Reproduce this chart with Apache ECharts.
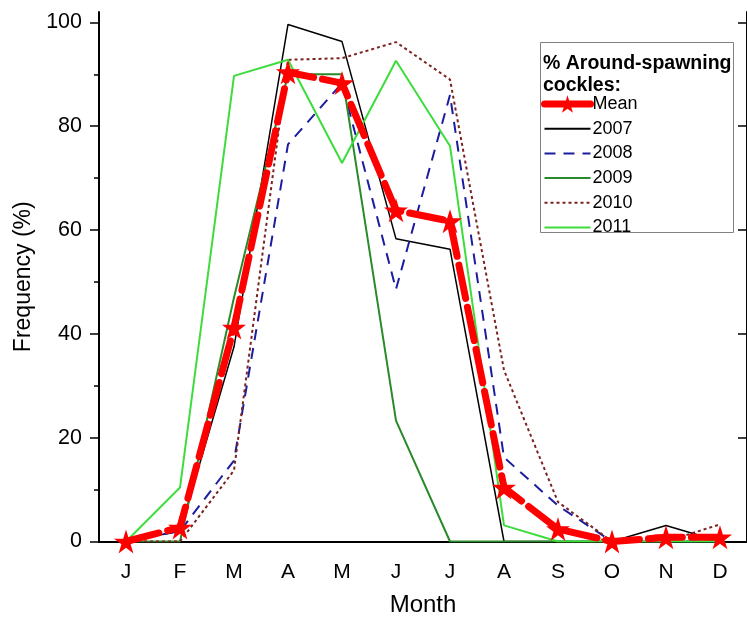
<!DOCTYPE html>
<html>
<head>
<meta charset="utf-8">
<script src="https://cdn.jsdelivr.net/npm/echarts@6/dist/echarts.min.js"></script>
<style>
  html, body { margin: 0; padding: 0; background: #fff; }
  #main { width: 747px; height: 623px; }
</style>
</head>
<body>
<div id="main"></div>
<script>
// month initials on the x axis
var months = ['J', 'F', 'M', 'A', 'M', 'J', 'J', 'A', 'S', 'O', 'N', 'D'];
// % around-spawning cockles
var meanData = [0, 2.7, 41.2, 90.4, 88.3, 63.8, 61.7, 10.4, 2.4, 0, 0.8, 0.8];
var y2007 = [0, 2, 37.5, 99.6, 96.3, 58.3, 56.3, 0, 0, 0, 3.1, 0];
var y2008 = [0, 2, 15.6, 76.5, 88.3, 48.6, 86, 16.2, 6.9, 0, 0, 0];
var y2009 = [0, 0, 47, 90, 90, 23.3, 0, 0, 0, 0, 0, 0];
var y2010 = [0, 0, 13.7, 92.8, 93.1, 96.2, 89, 33, 7.6, 0, 0, 3.3];
var y2011 = [0, 10.4, 89.7, 92.8, 72.9, 92.6, 76.2, 3.1, 0, 0, 0, 0];
var yTicks = [0, 20, 40, 60, 80, 100];

var font = 'Liberation Sans, Arial, sans-serif';
var star = 'path://M50,0 L61.2,34.5 L97.6,34.5 L68.2,55.9 L79.4,90.5 L50,69.1 L20.6,90.5 L31.8,55.9 L2.4,34.5 L38.8,34.5 Z';

function yearLine(name, data, color, type, width) {
    return {
        name: name,
        type: 'line',
        data: data,
        symbol: 'circle',
        showSymbol: false,
        z: 2,
        lineStyle: { color: color, width: width, type: type },
        itemStyle: { color: color }
    };
}

// legend entries: year lines show only their line, no marker
var legendData = [{ name: 'Mean', lineStyle: { width: 7, type: 'solid' } }];
['2007', '2008', '2009', '2010', '2011'].forEach(function (n) {
    legendData.push({ name: n, itemStyle: { opacity: 0 } });
});

var myChart = echarts.init(document.getElementById('main'));
var option = {
    animation: false,
    backgroundColor: '#fff',
    title: {
        text: '% Around-spawning\ncockles:',
        left: 543,
        top: 53,
        padding: 0,
        textStyle: { fontFamily: font, fontSize: 19.5, fontWeight: 'bold', color: '#000', lineHeight: 22 }
    },
    legend: {
        orient: 'vertical',
        left: 541,
        top: 95,
        padding: 0,
        itemWidth: 46,
        itemHeight: 22,
        itemGap: 6.7,
        selectedMode: false,
        textStyle: { fontFamily: font, fontSize: 18, color: '#000', padding: [0, 0, 0, -3] },
        data: legendData
    },
    graphic: [{
        type: 'rect',
        shape: { x: 540.5, y: 42.5, width: 193, height: 190 },
        style: { fill: 'none', stroke: '#808080', lineWidth: 1 },
        z: 1
    }],
    grid: { left: 99, top: 12, width: 656, height: 529.5 },
    xAxis: [{
        type: 'category',
        data: months,
        boundaryGap: true,
        name: 'Month',
        nameLocation: 'middle',
        nameGap: 52,
        nameTextStyle: { fontFamily: font, fontSize: 24, color: '#000' },
        axisLine: { lineStyle: { color: '#000', width: 2 } },
        axisTick: { alignWithLabel: true, length: 9, lineStyle: { color: '#000', width: 2 } },
        axisLabel: { fontFamily: font, fontSize: 21, color: '#000', margin: 20 },
        splitLine: { show: false }
    }, {
        type: 'category',
        data: months,
        position: 'top',
        boundaryGap: true,
        axisLine: { lineStyle: { color: '#000', width: 1.5 } },
        axisTick: { alignWithLabel: true, inside: true, length: 4, lineStyle: { color: '#000', width: 1.5 } },
        axisLabel: { show: false },
        splitLine: { show: false }
    }],
    yAxis: [{
        type: 'value',
        min: 0,
        max: 102,
        interval: 20,
        name: 'Frequency (%)',
        nameLocation: 'middle',
        nameGap: 61,
        nameTextStyle: { fontFamily: font, fontSize: 23, color: '#000' },
        axisLine: { show: true, lineStyle: { color: '#000', width: 2 } },
        axisTick: { show: true, length: 9, customValues: yTicks, lineStyle: { color: '#000', width: 1.5 } },
        minorTick: { show: true, splitNumber: 2, length: 5, lineStyle: { color: '#000', width: 1.5 } },
        axisLabel: { fontFamily: font, fontSize: 21.5, color: '#000', margin: 17, customValues: yTicks },
        splitLine: { show: false }
    }, {
        type: 'value',
        position: 'right',
        min: 0,
        max: 102,
        interval: 20,
        axisLine: { show: true, lineStyle: { color: '#000', width: 2 } },
        axisTick: { show: true, inside: true, length: 9, customValues: yTicks, lineStyle: { color: '#000', width: 1.5 } },
        axisLabel: { show: false },
        splitLine: { show: false }
    }],
    series: [
        {
            name: 'Mean',
            type: 'line',
            data: meanData,
            symbol: star,
            symbolSize: 24,
            showAllSymbol: true,
            z: 5,
            lineStyle: { color: '#ff0000', width: 7, type: [34, 9], cap: 'round' },
            itemStyle: { color: '#ff0000' }
        },
        yearLine('2007', y2007, '#000000', 'solid', 1.5),
        yearLine('2008', y2008, '#1c1ca0', [11, 8], 2),
        yearLine('2009', y2009, '#2a8a2a', 'solid', 2),
        yearLine('2010', y2010, '#7a2222', [3, 3], 2),
        yearLine('2011', y2011, '#3ddc3d', 'solid', 2)
    ]
};

myChart.setOption(option);
</script>
</body>
</html>
